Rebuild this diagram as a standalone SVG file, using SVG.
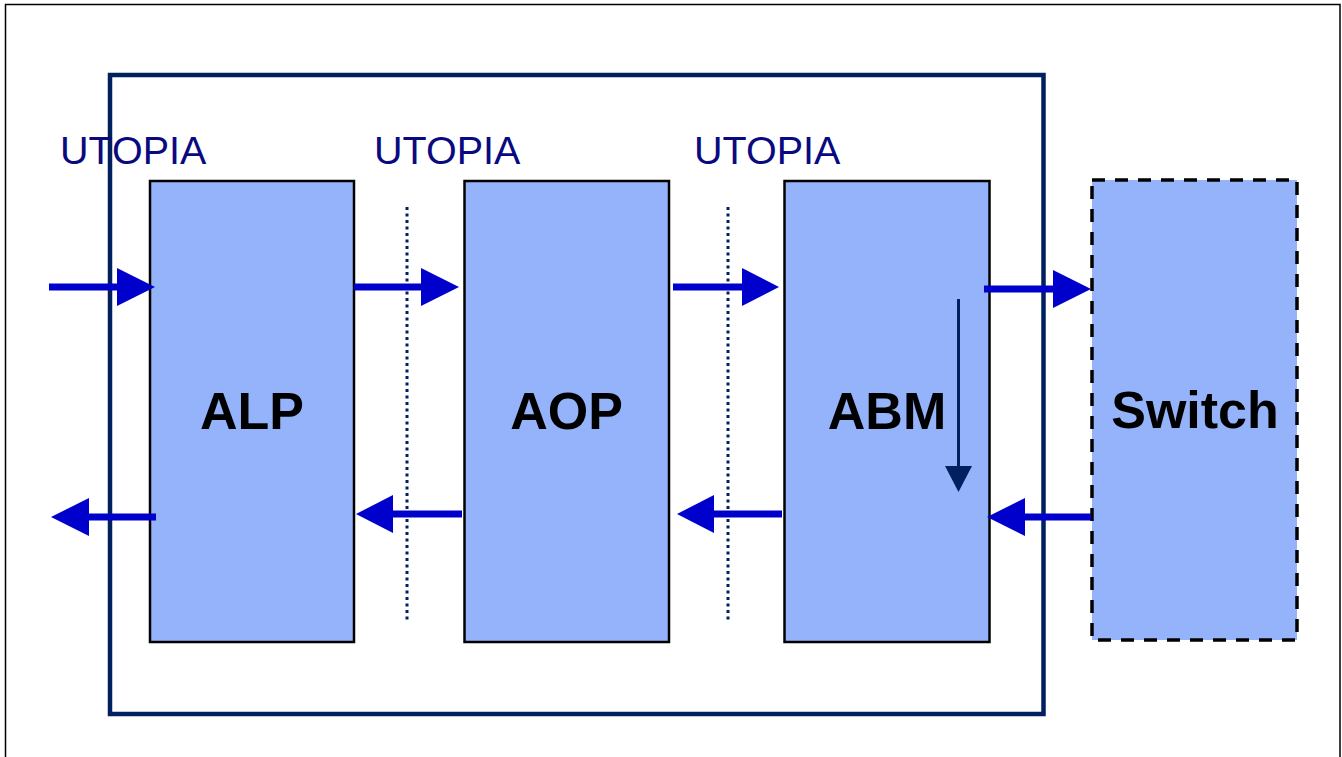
<svg xmlns="http://www.w3.org/2000/svg" width="1342" height="757" viewBox="0 0 1342 757">
<defs>
<style>
.blk{fill:#95B3FB;stroke:#000;stroke-width:2.5}
.sw{fill:#95B3FB;stroke:#000;stroke-width:3.5;stroke-dasharray:13 10}
.lbl{font-family:"Liberation Sans",Arial,sans-serif;font-weight:bold;font-size:52px;fill:#000;text-anchor:middle}
.uto{font-family:"Liberation Sans",Arial,sans-serif;font-size:39.5px;fill:#0A0A80}
.arr{stroke:#0000CC;stroke-width:7;fill:none}
.head{fill:#0000CC}
.dot{stroke:#002060;stroke-width:3;stroke-dasharray:3 3.5;fill:none}
</style>
</defs>
<rect x="0" y="0" width="1342" height="757" fill="#fff"/>
<rect x="5.5" y="4.5" width="1334.5" height="800" fill="none" stroke="#000" stroke-width="1.5"/>
<rect id="container" x="110" y="75" width="933.5" height="639" fill="none" stroke="#002060" stroke-width="4.5"/>
<g id="utopia-labels">
<text class="uto" x="60" y="164">UTOPIA</text>
<text class="uto" x="374" y="164">UTOPIA</text>
<text class="uto" x="694" y="164">UTOPIA</text>
</g>
<g id="ALP"><rect class="blk" x="150" y="181" width="204" height="461"/><text class="lbl" x="252" y="429">ALP</text></g>
<g id="AOP"><rect class="blk" x="464.5" y="181" width="204.5" height="461"/><text class="lbl" x="566.5" y="429">AOP</text></g>
<g id="ABM"><rect class="blk" x="784.5" y="181" width="205" height="461"/><text class="lbl" x="887" y="429">ABM</text></g>
<g id="Switch"><rect class="sw" x="1092" y="180" width="205" height="460"/><text class="lbl" x="1195" y="428">Switch</text></g>
<g id="connectors">
<line class="dot" x1="407" y1="207" x2="407" y2="623"/>
<line class="dot" x1="728" y1="207" x2="728" y2="623"/>
<line class="arr" x1="49" y1="287" x2="120" y2="287"/><polygon class="head" points="117,268 155,287 117,306"/>
<line class="arr" x1="354" y1="287" x2="424" y2="287"/><polygon class="head" points="421,268 459,287 421,306"/>
<line class="arr" x1="673" y1="287" x2="745" y2="287"/><polygon class="head" points="742,268 779,287 742,306"/>
<line class="arr" x1="984" y1="289" x2="1056" y2="289"/><polygon class="head" points="1053,270 1091,289 1053,308"/>
<line class="arr" x1="156" y1="517" x2="86" y2="517"/><polygon class="head" points="89,498 51,517 89,536"/>
<line class="arr" x1="462" y1="514" x2="390" y2="514"/><polygon class="head" points="393,495 356,514 393,533"/>
<line class="arr" x1="782" y1="514" x2="711" y2="514"/><polygon class="head" points="714,495 677,514 714,533"/>
<line class="arr" x1="1091" y1="517" x2="1022" y2="517"/><polygon class="head" points="1025,498 987,517 1025,536"/>
<line x1="958.5" y1="299" x2="958.5" y2="468" stroke="#002060" stroke-width="3"/><polygon points="945,466 972,466 958.5,492" fill="#002060"/>
</g>
</svg>
